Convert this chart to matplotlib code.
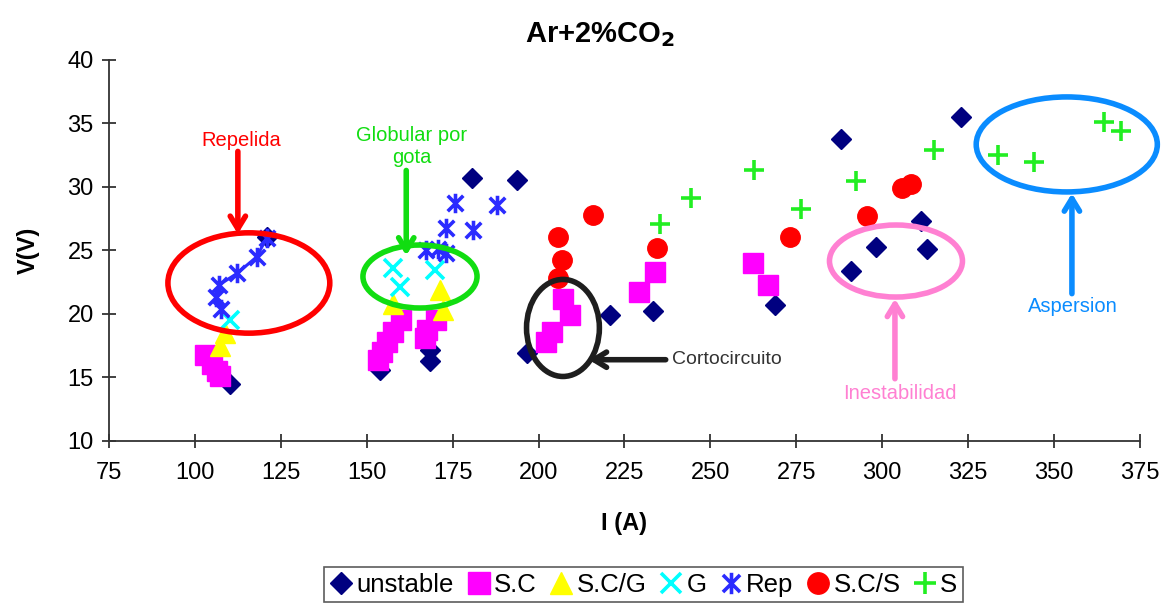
import numpy as np
import matplotlib
matplotlib.use("Agg")
import matplotlib.pyplot as plt
from matplotlib.patches import Ellipse
from matplotlib.path import Path
from matplotlib.lines import Line2D

plt.rcParams['font.family'] = ['Liberation Sans', 'DejaVu Sans']

# ---- data: welding current I (A) vs arc voltage V (V), by transfer mode ----
unstable_I = [110.2, 120.9, 153.8, 168.4, 168.4, 180.5, 193.6, 196.5, 220.8, 233.4,
              268.8, 287.9, 290.8, 298.3, 311.4, 312.9, 322.9]
unstable_V = [14.5, 26.1, 15.6, 17.2, 16.3, 30.7, 30.55, 16.9, 19.9, 20.2,
              20.7, 33.8, 23.4, 25.3, 27.3, 25.1, 35.5]

sc_I = [102.9, 104.9, 106.3, 107.3, 153.4, 154.3, 155.8, 157.7, 160.1, 166.9,
        167.4, 170.3, 202.3, 203.8, 207.2, 209.1, 229.3, 233.9, 262.5, 266.8]
sc_V = [16.8, 16.1, 15.5, 15.1, 16.4, 17.0, 17.8, 18.6, 19.5, 18.1,
        18.7, 19.5, 17.8, 18.6, 21.2, 19.9, 21.75, 23.3, 24.0, 22.3]

scg_I = [107.3, 108.8, 157.7, 171.3, 172.2]
scg_V = [17.5, 18.5, 20.8, 21.9, 20.3]

g_I = [110.2, 157.7, 159.7, 169.9]
g_V = [19.5, 23.6, 22.15, 23.5]

# NaN entries break the connecting line between runs
rep_I = [107.5, 106.2, 107.1, 112.3, 118.0, 120.9, np.nan,
         167.2, np.nan, 170.6, np.nan, 173.0, np.nan, 173.2, np.nan,
         175.7, np.nan, 181.0, np.nan, 187.8]
rep_V = [20.4, 21.3, 22.3, 23.2, 24.5, 26.0, np.nan,
         25.0, np.nan, 25.1, np.nan, 24.8, np.nan, 26.75, np.nan,
         28.7, np.nan, 26.6, np.nan, 28.6]

scs_I = [205.7, 206.7, 205.7, 215.7, 234.5, 273.3, 295.6, 305.9, 308.3]
scs_V = [22.8, 24.25, 26.1, 27.8, 25.2, 26.1, 27.7, 29.9, 30.2]

s_I = [235.3, 244.5, 262.7, 276.5, 292.3, 315.1, 333.6, 344.2, 364.5, 369.4]
s_V = [27.1, 29.1, 31.3, 28.3, 30.5, 32.9, 32.5, 32.0, 35.1, 34.4]

x_ticks = [75, 100, 125, 150, 175, 200, 225, 250, 275, 300, 325, 350, 375]
y_ticks = [10, 15, 20, 25, 30, 35, 40]

# asterisk marker: vertical bar plus a diagonal cross
star = Path([(0, -1), (0, 1), (-0.8, -0.8), (0.8, 0.8), (-0.8, 0.8), (0.8, -0.8)],
            [Path.MOVETO, Path.LINETO, Path.MOVETO, Path.LINETO, Path.MOVETO, Path.LINETO])

C_UNST = '#000080'
C_SC = '#FF00FF'
C_SCG = '#FFFF00'
C_G = '#00FFFF'
C_REP = '#2B2BFF'
C_SCS = '#FF0000'
C_S = '#22EE22'

MK = dict(
    unstable=dict(marker='D', ms=10, color=C_UNST),
    sc=dict(marker='s', ms=14, color=C_SC),
    scg=dict(marker='^', ms=14, color=C_SCG),
    g=dict(marker='x', ms=13, mew=2.6, color=C_G),
    rep=dict(marker=star, ms=14, mew=2.6, mfc='none', color=C_REP),
    scs=dict(marker='o', ms=14, color=C_SCS),
    s=dict(marker='+', ms=15, mew=2.6, color=C_S),
)

fig = plt.figure(figsize=(11.68, 6.07), dpi=100)
ax = fig.add_axes([0.0933, 0.2735, 0.8827, 0.6277])

ax.plot(unstable_I, unstable_V, ls='none', zorder=3, **MK['unstable'])
ax.plot(sc_I, sc_V, ls='none', zorder=3, **MK['sc'])
ax.plot(scg_I, scg_V, ls='none', zorder=3, **MK['scg'])
ax.plot(g_I, g_V, ls='none', zorder=3, **MK['g'])
ax.plot(rep_I, rep_V, ls='-', lw=2.2, zorder=3, **MK['rep'])
ax.plot(scs_I, scs_V, ls='none', zorder=3, **MK['scs'])
ax.plot(s_I, s_V, ls='none', zorder=3, **MK['s'])

ax.set_xlim(75, 375)
ax.set_ylim(10, 40)
ax.set_xticks(x_ticks)
ax.set_yticks(y_ticks)
for sp in ('top', 'right'):
    ax.spines[sp].set_visible(False)
for sp in ('left', 'bottom'):
    ax.spines[sp].set_color('#333333')
    ax.spines[sp].set_linewidth(1.3)
ax.tick_params(direction='inout', length=10, width=1.3, color='#333333',
               labelsize=17, pad=6)
ax.tick_params(axis='x', pad=10)

fig.text(600 / 1168, 1 - 35 / 607, r'Ar+2%CO$_\mathbf{2}$', fontsize=21,
         fontweight='bold', ha='center', va='center')
ax.set_xlabel('I (A)', fontsize=17, fontweight='bold', labelpad=20)
ax.set_ylabel('V(V)', fontsize=17, fontweight='bold', labelpad=20)

# ---- annotation callouts ----
def ring(cx, cy, w, h, color):
    ax.add_patch(Ellipse((cx, cy), w, h, fill=False, ec=color, lw=4,
                         zorder=5, clip_on=False))

def arrow(x0, y0, x1, y1, color):
    ax.annotate('', xy=(x1, y1), xytext=(x0, y0), zorder=5, annotation_clip=False,
                arrowprops=dict(arrowstyle='->,head_length=0.9,head_width=0.55',
                                color=color, lw=4, shrinkA=0, shrinkB=0))

RED, GREEN, BLACK, PINK, BLUE = '#FF0000', '#11DD11', '#1E1E1E', '#FF80D2', '#0A8CFF'

ring(115.7, 22.44, 47.1, 7.9, RED)
arrow(112.5, 32.8, 112.5, 26.3, RED)
ax.text(113.5, 32.9, 'Repelida', color=RED, fontsize=14.5, ha='center', va='bottom')

ring(165.5, 22.95, 33.2, 4.96, GREEN)
arrow(161.5, 31.3, 161.5, 24.6, GREEN)
ax.text(163.0, 31.6, 'Globular por\ngota', color=GREEN, fontsize=14.5,
        ha='center', va='bottom', linespacing=1.2)

ring(207.1, 18.9, 21.2, 7.64, BLACK)
arrow(237.0, 16.4, 214.6, 16.4, BLACK)
ax.text(238.8, 16.45, 'Cortocircuito', color='#333333', fontsize=14, ha='left', va='center')

ring(304.0, 24.17, 38.7, 5.67, PINK)
arrow(303.7, 14.9, 303.7, 21.2, PINK)
ax.text(305.0, 13.7, 'Inestabilidad', color=PINK, fontsize=14.5, ha='center', va='center')

ring(353.7, 33.35, 52.7, 7.48, BLUE)
arrow(355.2, 21.6, 355.2, 29.5, BLUE)
ax.text(355.5, 20.6, 'Aspersion', color=BLUE, fontsize=14.5, ha='center', va='center')

# ---- legend ----
keys = ['unstable', 'sc', 'scg', 'g', 'rep', 'scs', 's']
handles = [Line2D([], [], ls='none', **MK[k]) for k in keys]
labels = ['unstable', 'S.C', 'S.C/G', 'G', 'Rep', 'S.C/S', 'S']
leg = fig.legend(handles, labels, loc='center', bbox_to_anchor=(0.551, 0.037), ncol=7,
                 fontsize=18.5, frameon=True, fancybox=False, edgecolor='#333333',
                 handlelength=0.9, handletextpad=0.15, columnspacing=0.5,
                 borderpad=0.22, borderaxespad=0, markerscale=1.1)
leg.get_frame().set_linewidth(1.2)

fig.savefig('out.png', dpi=100)
